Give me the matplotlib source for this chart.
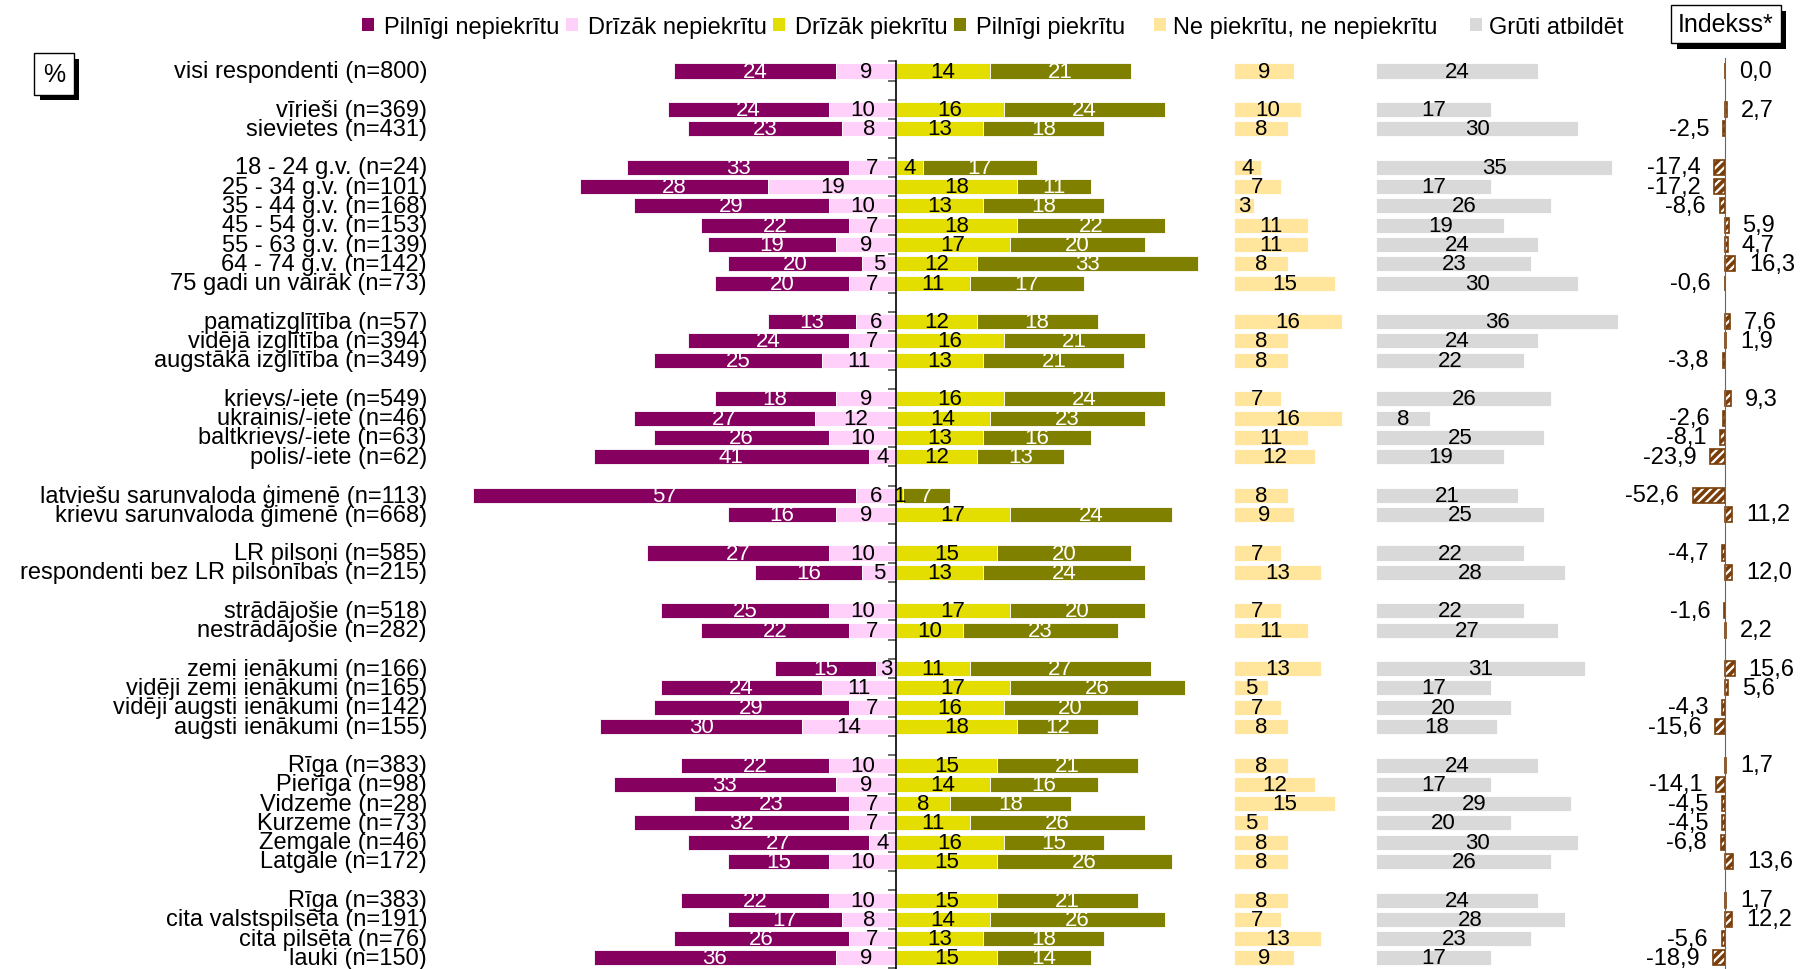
import numpy as np
import matplotlib.pyplot as plt
import matplotlib.patheffects as pe
from matplotlib.patches import Patch

plt.rcParams['font.family'] = ['Liberation Sans', 'DejaVu Sans']
plt.rcParams['hatch.linewidth'] = 1.6

# --- data -------------------------------------------------------------------
labels = [
    "visi respondenti (n=800)",
    "vīrieši (n=369)", "sievietes (n=431)",
    "18 - 24 g.v. (n=24)", "25 - 34 g.v. (n=101)", "35 - 44 g.v. (n=168)",
    "45 - 54 g.v. (n=153)", "55 - 63 g.v. (n=139)", "64 - 74 g.v. (n=142)",
    "75 gadi un vairāk (n=73)",
    "pamatizglītība (n=57)", "vidējā izglītība (n=394)", "augstākā izglītība (n=349)",
    "krievs/-iete (n=549)", "ukrainis/-iete (n=46)", "baltkrievs/-iete (n=63)",
    "polis/-iete (n=62)",
    "latviešu sarunvaloda ģimenē (n=113)", "krievu sarunvaloda ģimenē (n=668)",
    "LR pilsoņi (n=585)", "respondenti bez LR pilsonības (n=215)",
    "strādājošie (n=518)", "nestrādājošie (n=282)",
    "zemi ienākumi (n=166)", "vidēji zemi ienākumi (n=165)",
    "vidēji augsti ienākumi (n=142)", "augsti ienākumi (n=155)",
    "Rīga (n=383)", "Pierīga (n=98)", "Vidzeme (n=28)", "Kurzeme (n=73)",
    "Zemgale (n=46)", "Latgale (n=172)",
    "Rīga (n=383)", "cita valstspilsēta (n=191)", "cita pilsēta (n=76)",
    "lauki (n=150)",
]
group_sizes = [1, 2, 7, 3, 4, 2, 2, 2, 4, 6, 4]

full_disagree = [24, 24, 23, 33, 28, 29, 22, 19, 20, 20, 13, 24, 25, 18, 27, 26, 41,
                 57, 16, 27, 16, 25, 22, 15, 24, 29, 30, 22, 33, 23, 32, 27, 15,
                 22, 17, 26, 36]
rather_disagree = [9, 10, 8, 7, 19, 10, 7, 9, 5, 7, 6, 7, 11, 9, 12, 10, 4,
                   6, 9, 10, 5, 10, 7, 3, 11, 7, 14, 10, 9, 7, 7, 4, 10,
                   10, 8, 7, 9]
rather_agree = [14, 16, 13, 4, 18, 13, 18, 17, 12, 11, 12, 16, 13, 16, 14, 13, 12,
                1, 17, 15, 13, 17, 10, 11, 17, 16, 18, 15, 14, 8, 11, 16, 15,
                15, 14, 13, 15]
full_agree = [21, 24, 18, 17, 11, 18, 22, 20, 33, 17, 18, 21, 21, 24, 23, 16, 13,
              7, 24, 20, 24, 20, 23, 27, 26, 20, 12, 21, 16, 18, 26, 15, 26,
              21, 26, 18, 14]
neutral = [9, 10, 8, 4, 7, 3, 11, 11, 8, 15, 16, 8, 8, 7, 16, 11, 12,
           8, 9, 7, 13, 7, 11, 13, 5, 7, 8, 8, 12, 15, 5, 8, 8,
           8, 7, 13, 9]
hard = [24, 17, 30, 35, 17, 26, 19, 24, 23, 30, 36, 24, 22, 26, 8, 25, 19,
        21, 25, 22, 28, 22, 27, 31, 17, 20, 18, 24, 17, 29, 20, 30, 26,
        24, 28, 23, 17]
index = [0.0, 2.7, -2.5, -17.4, -17.2, -8.6, 5.9, 4.7, 16.3, -0.6, 7.6, 1.9, -3.8,
         9.3, -2.6, -8.1, -23.9, -52.6, 11.2, -4.7, 12.0, -1.6, 2.2, 15.6, 5.6,
         -4.3, -15.6, 1.7, -14.1, -4.5, -4.5, -6.8, 13.6, 1.7, 12.2, -5.6, -18.9]

legend_names = ["Pilnīgi nepiekrītu", "Drīzāk nepiekrītu", "Drīzāk piekrītu",
                "Pilnīgi piekrītu", "Ne piekrītu, ne nepiekrītu", "Grūti atbildēt"]
colors = ["#85005F", "#FFD0FA", "#E3DE00", "#808000", "#FFE69C", "#D9D9D9"]
text_colors = ["white", "black", "black", "white", "black", "black"]
INDEX_COLOR = "#7A3E0A"

# --- layout (pixels of the 1808x970 output) ---------------------------------
W, H = 1808, 970
PX = 6.72            # px per percent
CENTER_PX = 896
ROW0_PX = 72
ROW_PX = 19.28
NEUTRAL_X = 50.3     # start of the neutral block, in percent units
HARD_X = 71.5
LABEL_X = (427 - CENTER_PX) / PX
IDX_PX = 0.614
IDX_CENTER_PX = 1725
BAR_H = 0.78
FS = 17

ypos = []
start = 0
for n in group_sizes:
    ypos.extend(range(start, start + n))
    start += n + 1
ypos = np.array(ypos)
n_rows = start - 1

fd = np.array(full_disagree)
rd = np.array(rather_disagree)
ra = np.array(rather_agree)
fa = np.array(full_agree)
ne = np.array(neutral)
hd = np.array(hard)
idx = np.array(index)

fig = plt.figure(figsize=(W / 100, H / 100), dpi=100)
ax = fig.add_axes([0, 0, 1, 1])
ax.set_xlim(-CENTER_PX / PX, (W - CENTER_PX) / PX)
ylim = ((H - ROW0_PX) / ROW_PX, -ROW0_PX / ROW_PX)
ax.set_ylim(*ylim)

segments = [
    (fd, -(rd + fd)),
    (rd, -rd),
    (ra, np.zeros_like(ra)),
    (fa, ra),
    (ne, np.zeros_like(ne) + NEUTRAL_X),
    (hd, np.zeros_like(hd) + HARD_X),
]
for (vals, left), col, tcol in zip(segments, colors, text_colors):
    bars = ax.barh(ypos, vals, left=left, height=BAR_H, color=col,
                   edgecolor="white", linewidth=0.6)
    ax.bar_label(bars, labels=[str(v) for v in vals], label_type="center",
                 color=tcol, fontsize=16)

for y, lab in zip(ypos, labels):
    ax.text(LABEL_X, y, lab, ha="right", va="center", fontsize=FS)

for side in ["top", "right", "bottom"]:
    ax.spines[side].set_visible(False)
ax.spines["left"].set_position(("data", 0))
ax.spines["left"].set_bounds(-0.5, ylim[0])
ax.spines["left"].set_linewidth(1.2)
ax.set_xticks([])
ax.set_yticks(np.arange(-0.5, n_rows + 0.5, 1))
ax.tick_params(axis="y", direction="out", length=6, width=1.2,
               color="#555555", labelleft=False)

# --- index panel ------------------------------------------------------------
ax2 = fig.add_axes([0, 0, 1, 1], facecolor="none")
ax2.set_xlim(-IDX_CENTER_PX / IDX_PX, (W - IDX_CENTER_PX) / IDX_PX)
ax2.set_ylim(*ylim)
ax2.barh(ypos, idx, height=BAR_H, color=INDEX_COLOR, edgecolor="white",
         hatch="////", linewidth=0)
ax2.barh(ypos, idx, height=BAR_H, color="none", edgecolor=INDEX_COLOR,
         linewidth=1.2)
for y, v in zip(ypos, idx):
    txt = f"{v:.1f}".replace(".", ",")
    off = -10 if v < 0 else 10
    ax2.annotate(txt, (v, y), xytext=(off, 0), textcoords="offset points",
                 ha="right" if v < 0 else "left", va="center", fontsize=FS)
for side in ["top", "right", "bottom"]:
    ax2.spines[side].set_visible(False)
ax2.spines["left"].set_position(("data", 0))
ax2.spines["left"].set_bounds(-0.7, ylim[0])
ax2.spines["left"].set_color("#666666")
ax2.set_xticks([])
ax2.set_yticks([])

# --- legend -----------------------------------------------------------------
handles = [Patch(facecolor=c, edgecolor="none") for c in colors]
leg_kw = dict(frameon=False, fontsize=FS, handlelength=0.5, handleheight=0.5,
              borderpad=0, borderaxespad=0, loc="center left")
fig.legend(handles[:4], legend_names[:4], ncol=4, columnspacing=0.25,
           handletextpad=0.45, bbox_to_anchor=(362 / W, 1 - 27.7 / H), **leg_kw)
fig.legend(handles[4:], legend_names[4:], ncol=2, columnspacing=1.4,
           handletextpad=0.3, bbox_to_anchor=(1154 / W, 1 - 27.7 / H), **leg_kw)

# --- boxed notes with shadow ------------------------------------------------
shadow = [pe.withSimplePatchShadow(offset=(4, -4), shadow_rgbFace="black", alpha=1.0)]
for x, y, s, pad in [(54, 75, "%", 0.35), (1726, 25, "Indekss*", 0.28)]:
    t = fig.text(x / W, 1 - y / H, s, ha="center", va="center", fontsize=18,
                 bbox=dict(boxstyle=f"square,pad={pad}", fc="white", ec="black", lw=1))
    t.get_bbox_patch().set_path_effects(shadow)

fig.savefig("out.png", dpi=100)
